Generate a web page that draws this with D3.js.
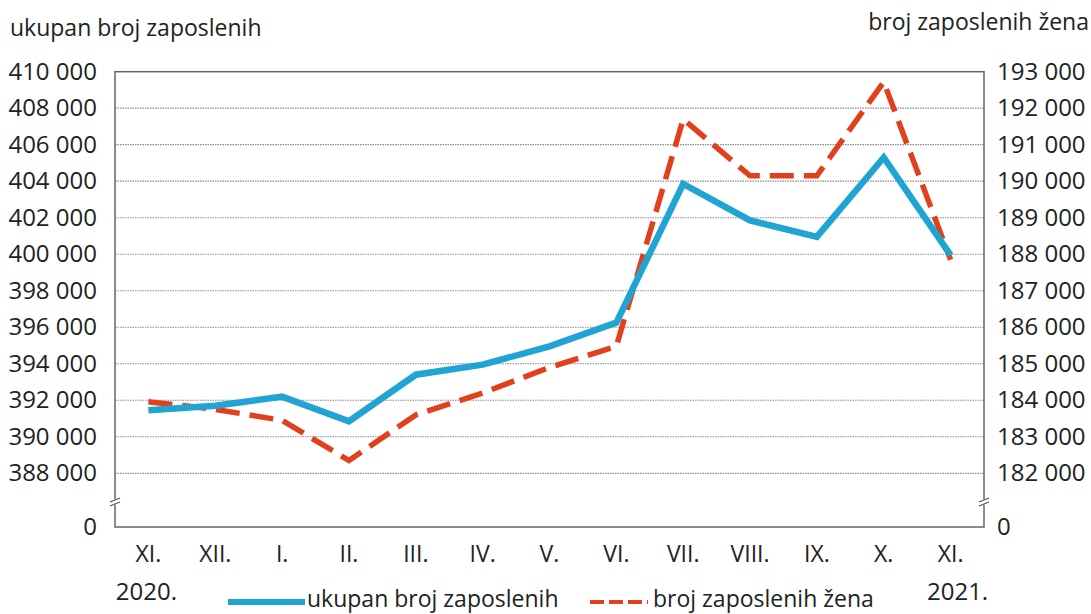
<!DOCTYPE html>
<html>
<head>
<meta charset="utf-8">
<script src="https://cdn.jsdelivr.net/npm/d3@7"></script>
<style>
  body { margin: 0; background: #fff; }
  text { font-family: "Open Sans", sans-serif; fill: #222; }
</style>
</head>
<body>
<div class="chart"></div>
<script>
// data
const months = ["XI.", "XII.", "I.", "II.", "III.", "IV.", "V.", "VI.", "VII.", "VIII.", "IX.", "X.", "XI."];
const years = ["2020.", "", "", "", "", "", "", "", "", "", "", "", "2021."];
const total = [391450, 391700, 392200, 390850, 393400, 393950, 394950, 396250, 403850, 401850, 400950, 405300, 399950];
const women = [183960, 183750, 183450, 182350, 183600, 184200, 184900, 185480, 191700, 190150, 190150, 192720, 187850];
const leftTicks = [0, 388000, 390000, 392000, 394000, 396000, 398000, 400000, 402000, 404000, 406000, 408000, 410000];
const rightTicks = [0, 182000, 183000, 184000, 185000, 186000, 187000, 188000, 189000, 190000, 191000, 192000, 193000];

const W = 1091, H = 614;
const plot = {left: 115, right: 984, top: 71.7, bottom: 527};
const fmt = v => d3.format(",")(v).replace(/,/g, " ");

const svg = d3.select(".chart").append("svg")
              .attr("width", W)
              .attr("height", H);

const x = d3.scalePoint()
            .domain(d3.range(months.length))
            .range([plot.left, plot.right])
            .padding(0.5);
// broken axes: zero sits at the bottom, the rest is a zoomed range
const yL = d3.scaleLinear()
             .domain([0, 385550, 410000])
             .range([plot.bottom, 518, plot.top]);
const yR = d3.scaleLinear()
             .domain([0, 180775, 193000])
             .range([plot.bottom, 518, plot.top]);

// gridlines
svg.append("g")
   .selectAll("line")
   .data(leftTicks.filter(d => d > 0 && d < 410000))
   .join("line")
   .attr("x1", plot.left).attr("x2", plot.right)
   .attr("y1", d => yL(d)).attr("y2", d => yL(d))
   .attr("stroke", "#8a8a8a")
   .attr("stroke-width", 1.2)
   .attr("stroke-dasharray", "1.5,1");

// frame
svg.append("rect")
   .attr("x", plot.left).attr("y", plot.top)
   .attr("width", plot.right - plot.left)
   .attr("height", plot.bottom - plot.top)
   .attr("fill", "none")
   .attr("stroke", "#666")
   .attr("stroke-width", 1.5);

// axes (labels only)
const axL = svg.append("g")
   .attr("transform", `translate(${plot.left},0)`)
   .call(d3.axisLeft(yL).tickValues(leftTicks).tickFormat(fmt).tickSize(0).tickPadding(18));
const axR = svg.append("g")
   .attr("transform", `translate(${plot.right},0)`)
   .call(d3.axisRight(yR).tickValues(rightTicks).tickFormat(fmt).tickSize(0).tickPadding(13));
[axL, axR].forEach(a => {
  a.select(".domain").remove();
  a.selectAll("text").style("font-size", "24px").attr("fill", "#222").attr("font-family", "Open Sans");
});

// break marks
[plot.left, plot.right].forEach(px => {
  const g = svg.append("g").attr("transform", `translate(${px},503)`);
  g.append("rect").attr("x", -4).attr("y", -4).attr("width", 8).attr("height", 6).attr("fill", "#fff");
  [-3, 1].forEach(dy => g.append("line")
     .attr("x1", -5).attr("x2", 5)
     .attr("y1", dy + 2).attr("y2", dy - 2)
     .attr("stroke", "#555").attr("stroke-width", 1.3));
});

// x labels
const xa = svg.append("g");
xa.selectAll(".m").data(months).join("text")
  .attr("class", "m")
  .attr("x", (d, i) => x(i)).attr("y", 562)
  .attr("text-anchor", "middle")
  .style("font-size", "23px")
  .text(d => d);
xa.selectAll(".yr").data(years).join("text")
  .attr("class", "yr")
  .attr("x", (d, i) => x(i) + (i === 0 ? -2 : 7)).attr("y", 600)
  .attr("text-anchor", "middle")
  .style("font-size", "24px")
  .text(d => d);

// lines
const blue = "#1fa4d4", red = "#e2401c";
svg.append("path")
   .datum(women)
   .attr("fill", "none")
   .attr("stroke", red)
   .attr("stroke-width", 5.5)
   .attr("stroke-dasharray", "24,10")
   .attr("d", d3.line().x((d, i) => x(i)).y(d => yR(d)));
svg.append("path")
   .datum(total)
   .attr("fill", "none")
   .attr("stroke", blue)
   .attr("stroke-width", 6.5)
   .attr("stroke-linejoin", "miter")
   .attr("d", d3.line().x((d, i) => x(i)).y(d => yL(d)));

// axis titles
svg.append("text").attr("x", 10).attr("y", 36).style("font-size", "23px").text("ukupan broj zaposlenih");
svg.append("text").attr("x", 1089).attr("y", 30).attr("text-anchor", "end").style("font-size", "23px").text("broj zaposlenih žena");

// legend
const lg = svg.append("g");
lg.append("line").attr("x1", 228).attr("x2", 305).attr("y1", 602).attr("y2", 602)
  .attr("stroke", blue).attr("stroke-width", 6);
lg.append("text").attr("x", 307).attr("y", 607).style("font-size", "23px").text("ukupan broj zaposlenih");
lg.append("line").attr("x1", 590).attr("x2", 648).attr("y1", 602).attr("y2", 602)
  .attr("stroke", red).attr("stroke-width", 4).attr("stroke-dasharray", "14,5,14,5,14,5,3,5");
lg.append("text").attr("x", 653).attr("y", 607).style("font-size", "23px").text("broj zaposlenih žena");
</script>
</body>
</html>
